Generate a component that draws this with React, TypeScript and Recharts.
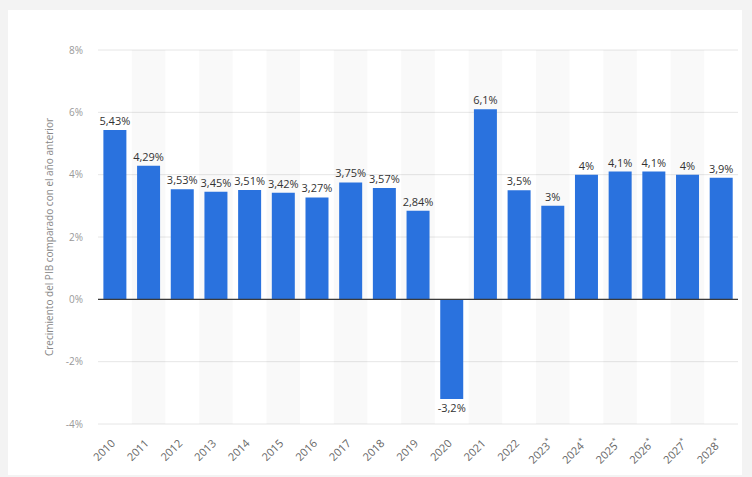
import React from 'react';
import {
  BarChart,
  Bar,
  XAxis,
  YAxis,
  CartesianGrid,
  ReferenceLine,
  ReferenceArea,
  LabelList,
} from 'recharts';

const categories = [
  '2010', '2011', '2012', '2013', '2014', '2015', '2016', '2017', '2018', '2019',
  '2020', '2021', '2022', '2023*', '2024*', '2025*', '2026*', '2027*', '2028*',
];
const growth = [
  5.43, 4.29, 3.53, 3.45, 3.51, 3.42, 3.27, 3.75, 3.57, 2.84,
  -3.2, 6.1, 3.5, 3, 4, 4.1, 4.1, 4, 3.9,
];
const yTicks = [-4, -2, 0, 2, 4, 6, 8];
const yLabel = 'Crecimiento del PIB comparado con el año anterior';

const data = categories.map((year, i) => ({ year, value: growth[i] }));

const fmt = (v: number) => `${String(v).replace('.', ',')}%`;

const XTick = (props: any) => {
  const { x, y, payload } = props;
  const label: string = payload.value;
  const star = label.endsWith('*');
  const year = star ? label.slice(0, -1) : label;
  return (
    <g transform={`translate(${x + 1},${y + 20}) rotate(-45)`}>
      <text textAnchor="end" fill="#666666" fontSize={11}>
        {year}
        {star && (
          <tspan fontSize={7} dy={-5}>
            *
          </tspan>
        )}
      </text>
    </g>
  );
};

export default function App() {
  return (
    <div
      style={{
        position: 'absolute',
        left: 0,
        top: 0,
        width: 752,
        height: 477,
        background: '#f3f3f3',
        fontFamily: "'Open Sans', sans-serif",
      }}
    >
      <style>{`body{margin:0;}`}</style>
      <div
        style={{
          position: 'absolute',
          left: 8,
          top: 10,
          width: 734,
          height: 465,
          background: '#ffffff',
        }}
      />
      <div style={{ position: 'absolute', left: 0, top: 0 }}>
        <BarChart
          width={752}
          height={477}
          data={data}
          margin={{ top: 50, right: 14, left: 0, bottom: 0 }}
          barCategoryGap="16%"
        >
          {categories.map((c, i) =>
            i % 2 === 1 ? (
              <ReferenceArea
                key={c}
                x1={c}
                x2={c}
                y1={-4}
                y2={8}
                fill="#000000"
                fillOpacity={0.022}
                stroke="none"
              />
            ) : null
          )}
          <CartesianGrid vertical={false} stroke="#e6e6e6" />
          <XAxis
            dataKey="year"
            axisLine={false}
            tickLine={false}
            tickSize={0}
            tickMargin={0}
            height={53}
            interval={0}
            tick={<XTick />}
          />
          <YAxis
            width={98}
            domain={[-4, 8]}
            ticks={yTicks}
            axisLine={false}
            tickLine={false}
            tickSize={0}
            tickMargin={15}
            tickFormatter={(v: number) => `${v}%`}
            tick={{ fill: '#999999', fontSize: 10 }}
            label={{
              value: yLabel,
              angle: -90,
              position: 'center',
              fill: '#888888',
              fontSize: 10,
            }}
          />
          <Bar dataKey="value" fill="#2a72de" isAnimationActive={false}>
            <LabelList
              dataKey="value"
              position="top"
              formatter={(v: any) => fmt(Number(v))}
              fill="#333333"
              fontSize={11}
              fontWeight={500}
            />
          </Bar>
          <ReferenceLine y={0} stroke="#3a3a3a" strokeWidth={1.2} />
        </BarChart>
      </div>
    </div>
  );
}
